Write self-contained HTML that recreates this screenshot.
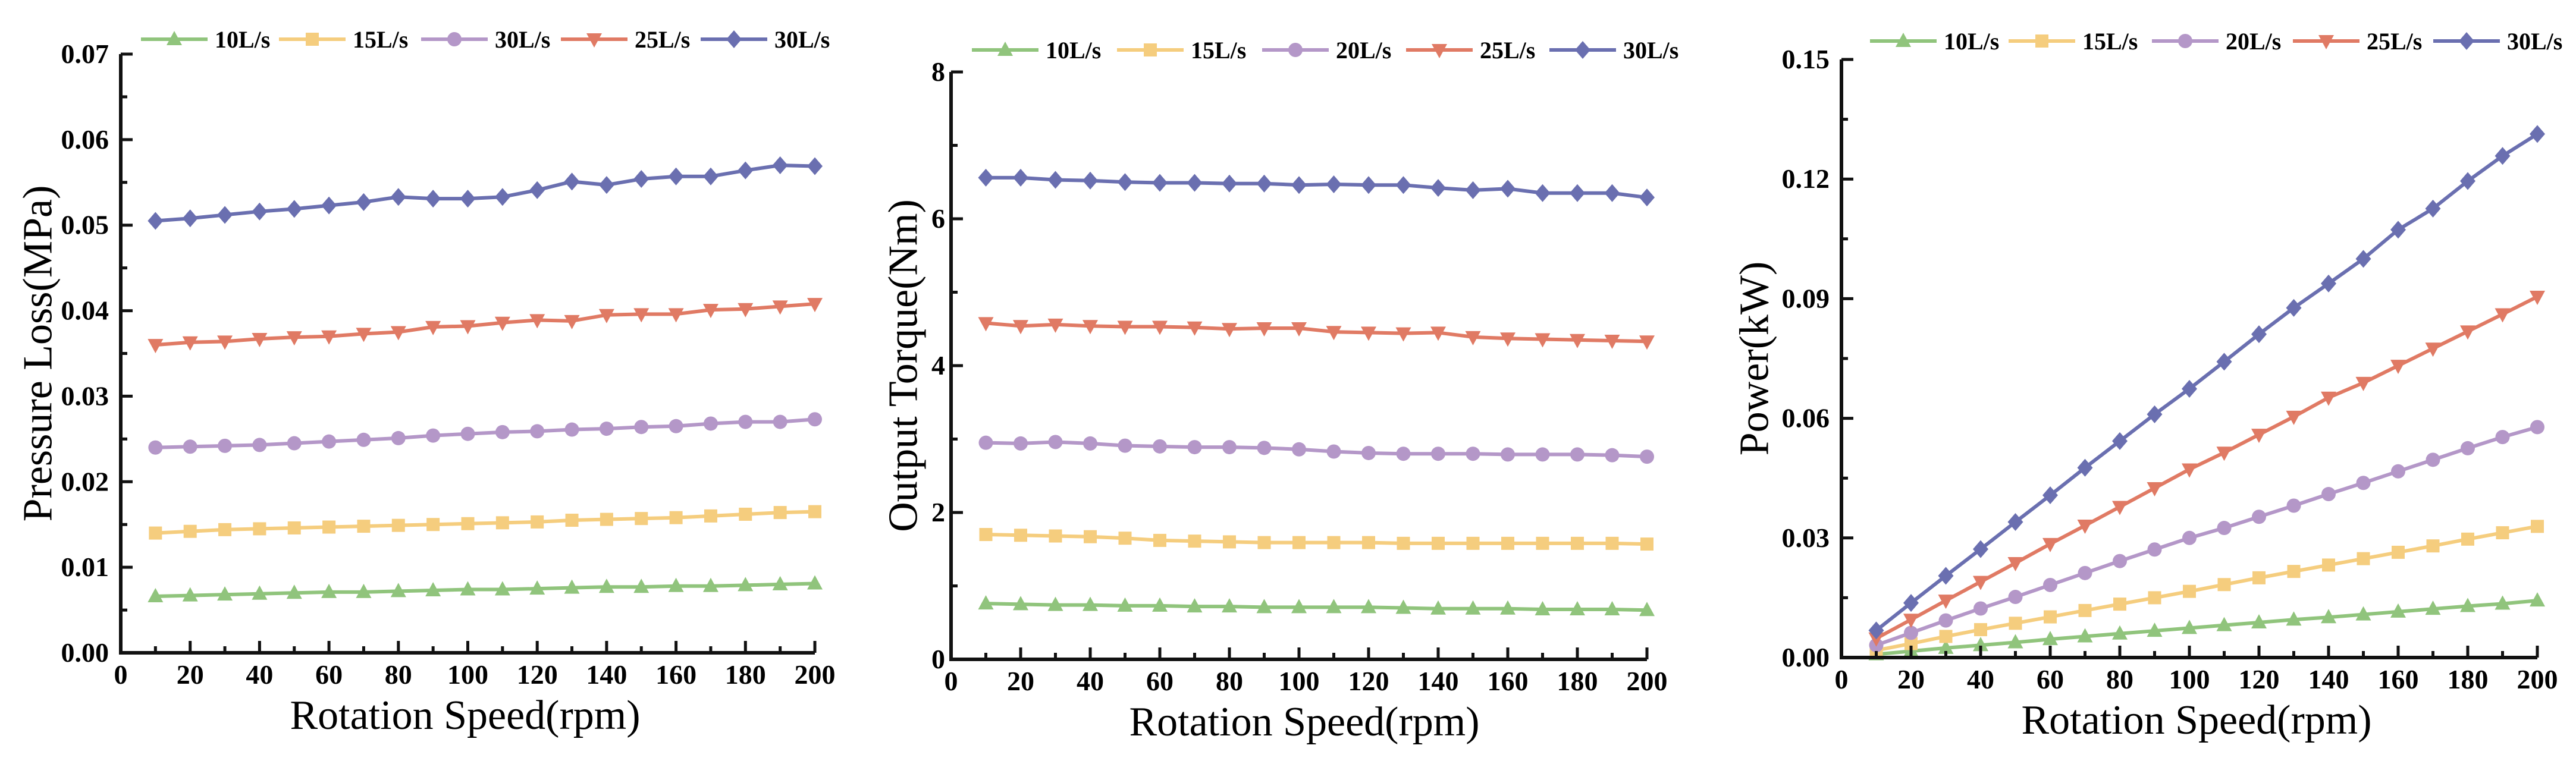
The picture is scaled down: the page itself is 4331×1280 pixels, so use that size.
<!DOCTYPE html>
<html><head><meta charset="utf-8"><style>
html,body{margin:0;padding:0;background:#fff;}
svg{display:block;}
svg text{font-family:"Liberation Serif","DejaVu Serif",serif;}
</style></head><body>
<svg id="fig" width="4331" height="1280" viewBox="0 0 4331 1280" xmlns="http://www.w3.org/2000/svg" font-family="Liberation Serif, DejaVu Serif, serif"></svg>
<script>
const speeds=[10,20,30,40,50,60,70,80,90,100,110,120,130,140,150,160,170,180,190,200];
const seriesNames=["10L/s","15L/s","20L/s","25L/s","30L/s"];
const legendNames1=["10L/s","15L/s","30L/s","25L/s","30L/s"];
const xTicks=[0,20,40,60,80,100,120,140,160,180,200];

const p1Green=[0.0066,0.0067,0.0068,0.0069,0.0070,0.0071,0.0071,0.0072,0.0073,0.0074,0.0074,0.0075,0.0076,0.0077,0.0077,0.0078,0.0078,0.0079,0.0080,0.0081];
const p1Yellow=[0.0140,0.0142,0.0144,0.0145,0.0146,0.0147,0.0148,0.0149,0.0150,0.0151,0.0152,0.0153,0.0155,0.0156,0.0157,0.0158,0.0160,0.0162,0.0164,0.0165];
const p1Purple=[0.0240,0.0241,0.0242,0.0243,0.0245,0.0247,0.0249,0.0251,0.0254,0.0256,0.0258,0.0259,0.0261,0.0262,0.0264,0.0265,0.0268,0.0270,0.0270,0.0273];
const p1Red=[0.0360,0.0363,0.0364,0.0367,0.0369,0.0370,0.0373,0.0375,0.0381,0.0382,0.0386,0.0389,0.0388,0.0395,0.0396,0.0396,0.0401,0.0402,0.0405,0.0408];
const p1Blue=[0.0505,0.0508,0.0512,0.0516,0.0519,0.0523,0.0527,0.0533,0.0531,0.0531,0.0533,0.0541,0.0551,0.0547,0.0554,0.0557,0.0557,0.0564,0.0570,0.0569];
const p1YTicks=["0.00","0.01","0.02","0.03","0.04","0.05","0.06","0.07"];

const t2Green=[0.76,0.75,0.74,0.74,0.73,0.73,0.72,0.72,0.71,0.71,0.71,0.71,0.70,0.69,0.69,0.69,0.68,0.68,0.68,0.67];
const t2Yellow=[1.70,1.69,1.68,1.67,1.65,1.62,1.61,1.60,1.59,1.59,1.59,1.59,1.58,1.58,1.58,1.58,1.58,1.58,1.58,1.57];
const t2Purple=[2.95,2.94,2.96,2.94,2.91,2.90,2.89,2.89,2.88,2.86,2.83,2.81,2.80,2.80,2.80,2.79,2.79,2.79,2.78,2.76];
const t2Red=[4.58,4.54,4.56,4.54,4.53,4.53,4.52,4.50,4.51,4.51,4.46,4.45,4.44,4.45,4.39,4.37,4.36,4.35,4.34,4.33];
const t2Blue=[6.56,6.56,6.53,6.52,6.50,6.49,6.49,6.48,6.48,6.46,6.47,6.46,6.46,6.42,6.39,6.41,6.35,6.35,6.35,6.29];
const t2YTicks=["0","2","4","6","8"];

const w3Green=[0.0008,0.0016,0.0024,0.0031,0.0038,0.0046,0.0053,0.0060,0.0067,0.0074,0.0081,0.0088,0.0095,0.0101,0.0108,0.0115,0.0122,0.0129,0.0135,0.0143];
const w3Yellow=[0.0018,0.0035,0.0053,0.0070,0.0086,0.0102,0.0118,0.0134,0.0150,0.0166,0.0183,0.0200,0.0216,0.0232,0.0248,0.0264,0.0280,0.0297,0.0313,0.0329];
const w3Purple=[0.0031,0.0062,0.0093,0.0123,0.0152,0.0182,0.0212,0.0242,0.0271,0.0300,0.0325,0.0353,0.0381,0.0410,0.0438,0.0467,0.0496,0.0525,0.0553,0.0578];
const w3Red=[0.0048,0.0095,0.0143,0.0190,0.0237,0.0285,0.0331,0.0378,0.0425,0.0472,0.0514,0.0559,0.0604,0.0652,0.0689,0.0732,0.0775,0.0818,0.0861,0.0905];
const w3Blue=[0.0068,0.0137,0.0205,0.0272,0.0340,0.0407,0.0476,0.0543,0.0610,0.0674,0.0742,0.0811,0.0877,0.0938,0.1000,0.1073,0.1126,0.1195,0.1258,0.1313];
const w3YTicks=["0.00","0.03","0.06","0.09","0.12","0.15"];

const colors=["#90c47c","#f5cd7e","#b497c8","#e07a64","#6a6fb0"];
const markers=["tri","sq","circ","tridown","diam"];
const NS="http://www.w3.org/2000/svg";
const FONT="Liberation Serif, DejaVu Serif, serif";
const svg=document.getElementById('fig');
function mk(tag,attrs,parent){const e=document.createElementNS(NS,tag);for(const k in attrs)e.setAttribute(k,attrs[k]);if(tag==='text')e.setAttribute('font-family',FONT);(parent||svg).appendChild(e);return e;}

function marker(g,type,x,y,c){
  const s=12;let e;
  if(type==="tri")e=mk('polygon',{points:`${x},${y-s-2} ${x-s-1},${y+s-2} ${x+s+1},${y+s-2}`,fill:c},g);
  else if(type==="sq")e=mk('rect',{x:x-s+1,y:y-s+1,width:2*s-2,height:2*s-2,fill:c},g);
  else if(type==="circ")e=mk('circle',{cx:x,cy:y,r:s,fill:c},g);
  else if(type==="tridown")e=mk('polygon',{points:`${x},${y+s+2} ${x-s-1},${y-s+2} ${x+s+1},${y-s+2}`,fill:c},g);
  else e=mk('polygon',{points:`${x},${y-s-3} ${x+s+1},${y} ${x},${y+s+3} ${x-s-1},${y}`,fill:c},g);
  return e;
}

function chart(cfg){
  const g=mk('g',{});
  
  
  const X=v=>cfg.x0+(v/200)*(cfg.x1-cfg.x0);
  const Y=v=>cfg.y0-(v/cfg.ymax)*(cfg.y0-cfg.y1);
  cfg.series.forEach((d,si)=>{
    const sg=mk('g',{},g);
    
    
    const pts=speeds.map((s,i)=>X(s)+','+Y(d[i])).join(' ');
    mk('polyline',{points:pts,fill:'none',stroke:colors[si],'stroke-width':6,'stroke-linejoin':'round'},sg);
    speeds.forEach((s,i)=>{const m=marker(sg,markers[si],X(s),Y(d[i]),colors[si]);
      
      });
  });
  const ax=mk('path',{d:`M${cfg.x0},${cfg.y1} V${cfg.y0} H${cfg.x1}`,fill:'none',stroke:'#111','stroke-width':6},g);
  
  
  let tk='';
  for(let v=0;v<=200;v+=10){const x=X(v);const L=(v%20===0)?20:11;tk+=`M${x},${cfg.y0} V${cfg.y0-L} `;}
  const n=cfg.yTicks.length-1;
  for(let i=0;i<=2*n;i++){const y=cfg.y0-(i/(2*n))*(cfg.y0-cfg.y1);const L=(i%2===0)?20:11;tk+=`M${cfg.x0},${y} H${cfg.x0+L} `;}
  const tp=mk('path',{d:tk,stroke:'#111','stroke-width':5,fill:'none'},g);
  
  
  xTicks.forEach(v=>{const t=mk('text',{x:X(v),y:cfg.y0+52,'text-anchor':'middle','font-size':46,'font-weight':'bold'},g);t.textContent=v;
    
    });
  cfg.yTicks.forEach((lab,i)=>{const v=i*cfg.ymax/n;const t=mk('text',{x:cfg.x0-cfg.ylabOff,y:Y(v)+15,'text-anchor':'end','font-size':46,'font-weight':'bold'},g);t.textContent=lab;
    
    });
  const xt=mk('text',{x:cfg.xtX,y:cfg.y0+128,'text-anchor':'middle','font-size':70},g);xt.textContent='Rotation Speed(rpm)';
  
  
  const cy=(cfg.y0+cfg.y1)/2;
  const yt=mk('text',{x:cfg.ytX,y:cy,'text-anchor':'middle','font-size':70,transform:`rotate(-90 ${cfg.ytX} ${cy})`,'dominant-baseline':'central'},g);yt.textContent=cfg.ytitle;
  
  
  const lg=mk('g',{},g);
  
  
  cfg.legendX.forEach((lx,i)=>{
    const eg=mk('g',{},lg);
    
    
    mk('line',{x1:lx,y1:cfg.ly,x2:lx+112,y2:cfg.ly,stroke:colors[i],'stroke-width':6},eg);
    marker(eg,markers[i],lx+56,cfg.ly,colors[i]);
    const t=mk('text',{x:lx+124,y:cfg.ly+14,'font-size':40,'font-weight':'bold'},eg);t.textContent=cfg.legendNames[i];
  });
}

chart({name:'pressure-loss-chart',x0:203,x1:1370,y0:1098,y1:91,ymax:0.07,series:[p1Green,p1Yellow,p1Purple,p1Red,p1Blue],yTicks:p1YTicks,ylabOff:20,
  ytitle:'Pressure Loss(MPa)',ytX:64,xtX:782,legendX:[237,469,708,943,1178],ly:66,legendNames:legendNames1});
chart({name:'output-torque-chart',x0:1599,x1:2769,y0:1109,y1:121,ymax:8,series:[t2Green,t2Yellow,t2Purple,t2Red,t2Blue],yTicks:t2YTicks,ylabOff:10,
  ytitle:'Output Torque(Nm)',ytX:1519,xtX:2193,legendX:[1634,1878,2122,2364,2605],ly:84,legendNames:seriesNames});
chart({name:'power-chart',x0:3096,x1:4266,y0:1106,y1:100,ymax:0.15,series:[w3Green,w3Yellow,w3Purple,w3Red,w3Blue],yTicks:w3YTicks,ylabOff:20,
  ytitle:'Power(kW)',ytX:2950,xtX:3693,legendX:[3144,3377,3618,3855,4091],ly:69,legendNames:seriesNames});
</script>
</body></html>
